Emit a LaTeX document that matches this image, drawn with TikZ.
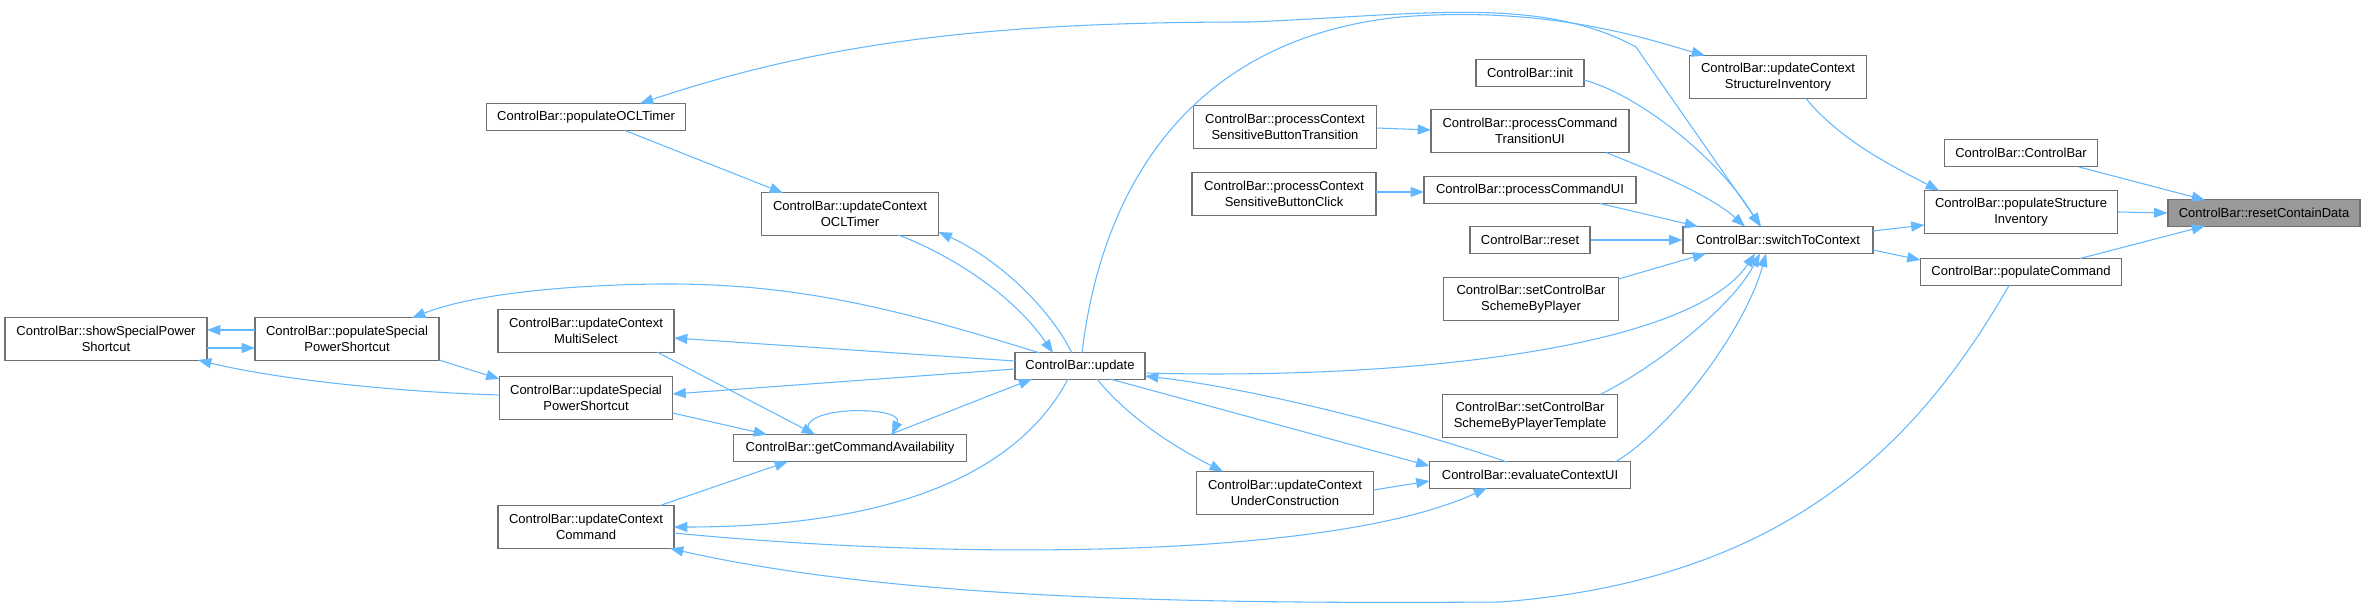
\documentclass[tikz,border=0pt]{standalone}
\usepackage{fontspec}
\setmainfont{Liberation Sans}
\usetikzlibrary{arrows.meta, calc}
\definecolor{edgeblue}{HTML}{63B8FF}
\definecolor{boxline}{HTML}{707070}
\definecolor{rootfill}{HTML}{999999}
\tikzset{
  fnbox/.style={
    rectangle, draw=boxline, line width=0.9pt, fill=white,
    inner xsep=3pt, inner ysep=1pt,
    minimum height=20.25pt, align=center,
    font=\fontsize{9.75}{11.8}\selectfont,
  },
  twoline/.style={minimum height=32.25pt},
  rootbox/.style={fnbox, fill=rootfill},
  wd/.style={minimum width=#1*0.75pt},
  callarrow/.style={-{Triangle[length=10pt,width=7.5pt]}, line width=0.8pt, color=edgeblue},
  callboth/.style={{Triangle[length=10pt,width=7.5pt]}-{Triangle[length=10pt,width=7.5pt]}, line width=0.8pt, color=edgeblue},
}

\begin{document}
\begin{tikzpicture}[x=0.75pt, y=-0.75pt]
  \useasboundingbox (0,0) rectangle (2368,606);

  \node[rootbox, wd=192] (root) at (2264,213) {ControlBar::resetContainData};
  \node[fnbox, wd=153] (ctor) at (2021,153) {ControlBar::ControlBar};
  \node[fnbox, twoline, wd=193] (psi) at (2021,212) {ControlBar::populateStructure\\Inventory};
  \node[fnbox, wd=201] (pcmd) at (2021,272) {ControlBar::populateCommand};
  \node[fnbox, twoline, wd=177] (ucsi) at (1778,77) {ControlBar::updateContext\\StructureInventory};
  \node[fnbox, wd=190] (stc) at (1778,240) {ControlBar::switchToContext};
  \node[fnbox, wd=108] (init) at (1530,73) {ControlBar::init};
  \node[fnbox, twoline, wd=198] (pctui) at (1530,131) {ControlBar::processCommand\\TransitionUI};
  \node[fnbox, wd=212] (pcui) at (1530,190) {ControlBar::processCommandUI};
  \node[fnbox, wd=120] (reset) at (1530,240) {ControlBar::reset};
  \node[fnbox, twoline, wd=175] (scbp) at (1531,299) {ControlBar::setControlBar\\SchemeByPlayer};
  \node[fnbox, twoline, wd=175] (scbpt) at (1530,416) {ControlBar::setControlBar\\SchemeByPlayerTemplate};
  \node[fnbox, wd=201] (ecui) at (1530,475) {ControlBar::evaluateContextUI};
  \node[fnbox, twoline, wd=183] (pcsbt) at (1285,127) {ControlBar::processContext\\SensitiveButtonTransition};
  \node[fnbox, twoline, wd=184] (pcsbc) at (1284,194) {ControlBar::processContext\\SensitiveButtonClick};
  \node[fnbox, twoline, wd=177] (ucuc) at (1285,493) {ControlBar::updateContext\\UnderConstruction};
  \node[fnbox, wd=130] (upd) at (1080,366) {ControlBar::update};
  \node[fnbox, twoline, wd=177] (ucocl) at (850,214) {ControlBar::updateContext\\OCLTimer};
  \node[fnbox, wd=233] (gca) at (850,448) {ControlBar::getCommandAvailability};
  \node[fnbox, wd=199] (pocl) at (586,117) {ControlBar::populateOCLTimer};
  \node[fnbox, twoline, wd=176] (ucms) at (586,331) {ControlBar::updateContext\\MultiSelect};
  \node[fnbox, twoline, wd=173] (usps) at (586,398) {ControlBar::updateSpecial\\PowerShortcut};
  \node[fnbox, twoline, wd=176] (ucc) at (586,527) {ControlBar::updateContext\\Command};
  \node[fnbox, twoline, wd=184] (psps) at (347,339) {ControlBar::populateSpecial\\PowerShortcut};
  \node[fnbox, twoline, wd=202] (ssps) at (106,339) {ControlBar::showSpecialPower\\Shortcut};

  % callers of resetContainData
  \draw[callarrow] ($(ctor)+(58,14)$) -- ($(root)+(-59,-13)$);
  \draw[callarrow] (psi.east) -- (root.west);
  \draw[callarrow] ($(pcmd)+(59,-13.5)$) -- ($(root)+(-59,13)$);
  \draw[callarrow] ($(ucsi)+(28,21.5)$) .. controls (1840,140) and (1890,165) .. ($(psi)+(-82,-21.5)$);
  \draw[callarrow] ($(stc)+(95,-9)$) -- ($(psi)+(-96.5,13)$);
  \draw[callarrow] ($(stc)+(95,10)$) -- ($(pcmd)+(-100.5,-12)$);

  % into switchToContext
  \draw[callarrow] ($(init)+(54,7)$) .. controls (1640,95) and (1720,160) .. ($(stc)+(-18,-13.5)$);
  \draw[callarrow] ($(pctui)+(76,21.5)$) .. controls (1650,170) and (1710,195) .. ($(stc)+(-33,-13.5)$);
  \draw[callarrow] ($(pcui)+(70,13.5)$) -- ($(stc)+(-80,-13.5)$);
  \draw[callarrow] (reset.east) -- (stc.west);
  \draw[callarrow] ($(scbp)+(87.5,-20)$) -- ($(stc)+(-72,13.5)$);
  \draw[callarrow] ($(upd)+(65,7)$) .. controls (1400,380) and (1690,350) .. ($(stc)+(-23,13.5)$);
  \draw[callarrow] ($(scbpt)+(70,-21.5)$) .. controls (1650,370) and (1730,310) .. ($(stc)+(-18,13.5)$);
  \draw[callarrow] ($(ecui)+(85,-13)$) .. controls (1670,430) and (1745,330) .. ($(stc)+(-12,13.5)$);
  \draw[callboth] ($(pocl)+(54,-13.5)$) .. controls (830,40) and (1000,22) .. (1250,22)
    .. controls (1420,15) and (1540,-5) .. (1636,47) -- ($(stc)+(-17,-13.5)$);
  \draw[callarrow] ($(upd)+(2,-13)$) .. controls (1100,200) and (1180,40) .. (1400,17)
    .. controls (1550,5) and (1650,40) .. ($(ucsi)+(-73,-21.5)$);

  % around update
  \draw[callarrow] ($(ucocl)+(48,21)$) .. controls (940,250) and (1010,290) .. ($(upd)+(-27,-13)$);
  \draw[callarrow] ($(upd)+(-8,-13)$) .. controls (1045,300) and (990,255) .. ($(ucocl)+(88.5,18)$);
  \draw[callarrow] ($(upd)+(-40,-13)$) .. controls (900,310) and (800,283) .. (660,284)
    .. controls (560,285) and (470,295) .. ($(psps)+(65,-21)$);
  \draw[callarrow] ($(upd)+(-65,-5)$) -- ($(ucms)+(88,7)$);
  \draw[callarrow] ($(upd)+(-65,3)$) -- ($(usps)+(86.5,-4)$);
  \draw[callarrow] ($(gca)+(40,-13.5)$) -- ($(upd)+(-48,13)$);
  \draw[callarrow] ($(upd)+(-12,13)$) .. controls (1020,470) and (900,527) .. ($(ucc)+(88,0)$);
  \draw[callarrow] ($(upd)+(30,13)$) -- ($(ecui)+(-100.5,-9)$);
  \draw[callarrow] ($(ecui)+(-23,-13)$) .. controls (1400,425) and (1250,388) .. ($(upd)+(65,10)$);
  \draw[callarrow] ($(upd)+(17,13)$) .. controls (1130,420) and (1180,450) .. ($(ucuc)+(-62,-21.5)$);
  \draw[callarrow] ($(ucuc)+(88.5,-3)$) -- ($(ecui)+(-100.5,6)$);
  \draw[callarrow] ($(ucc)+(88,6)$) .. controls (950,560) and (1330,560) .. ($(ecui)+(-43,13)$);
  \draw[callarrow] ($(pcmd)+(-12,13.5)$) .. controls (1920,440) and (1790,580) .. (1500,602)
    .. controls (1200,604) and (900,600) .. ($(ucc)+(84,21.5)$);

  % getCommandAvailability
  \draw[callarrow] ($(ucc)+(74,-21.5)$) -- ($(gca)+(-62,13.5)$);
  \draw[callarrow] ($(ucms)+(71,21)$) -- ($(gca)+(-35,-13.5)$);
  \draw[callarrow] ($(usps)+(86.5,15)$) -- ($(gca)+(-83,-13.5)$);
  \draw[callarrow] ($(gca)+(-40,-13.5)$) .. controls (790,405) and (905,405) .. ($(gca)+(42,-13.5)$);

  % left part
  \draw[callarrow] ($(pocl)+(39,13.5)$) -- ($(ucocl)+(-67,-21)$);
  \draw[callarrow] ($(psps)+(-92,-9)$) -- ($(ssps)+(101,-9)$);
  \draw[callarrow] ($(ssps)+(101,9)$) -- ($(psps)+(-92,9)$);
  \draw[callarrow] ($(usps)+(-86.5,-3)$) .. controls (400,392) and (280,380) .. ($(ssps)+(92,21)$);
  \draw[callarrow] ($(psps)+(92,21)$) -- ($(usps)+(-86.5,-19)$);
  \draw[callarrow] ($(pcsbt)+(91.5,1)$) -- ($(pctui)+(-99,-1)$);
  \draw[callarrow] ($(pcsbc)+(92,-2)$) -- ($(pcui)+(-106,2)$);

\end{tikzpicture}
\end{document}
